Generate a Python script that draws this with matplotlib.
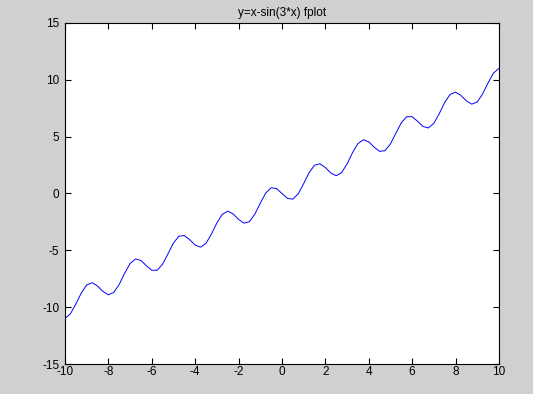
import matplotlib
matplotlib.use('Agg')
import matplotlib.pyplot as plt

# y = x - sin(3x) at steps of 0.25 for x >= 0
x_pos = [0, 0.25, 0.5, 0.75, 1.0, 1.25, 1.5, 1.75, 2.0, 2.25, 2.5, 2.75, 3.0,
         3.25, 3.5, 3.75, 4.0, 4.25, 4.5, 4.75, 5.0, 5.25, 5.5, 5.75, 6.0,
         6.25, 6.5, 6.75, 7.0, 7.25, 7.5, 7.75, 8.0, 8.25, 8.5, 8.75, 9.0,
         9.25, 9.5, 9.75, 10.0]
y_pos = [0, -0.43, -0.50, -0.03, 0.86, 1.82, 2.48, 2.61, 2.28, 1.80, 1.56,
         1.83, 2.59, 3.57, 4.38, 4.72, 4.54, 4.07, 3.70, 3.76, 4.35, 5.29,
         6.21, 6.75, 6.75, 6.35, 5.89, 5.76, 6.16, 7.01, 7.99, 8.70, 8.91,
         8.62, 8.14, 7.85, 8.04, 8.75, 9.72, 10.58, 10.99]
# curve is odd-symmetric about the origin
xs = [-v for v in x_pos[:0:-1]] + x_pos
ys = [-v for v in y_pos[:0:-1]] + y_pos

xticks = [-10, -8, -6, -4, -2, 0, 2, 4, 6, 8, 10]
yticks = [-15, -10, -5, 0, 5, 10, 15]

plt.rcParams['font.family'] = ['Liberation Sans', 'DejaVu Sans']
plt.rcParams['font.size'] = 8
plt.rcParams['axes.unicode_minus'] = False

fig = plt.figure(figsize=(5.33, 3.94), dpi=100, facecolor='#d0d0d0')
ax = fig.add_axes([0.122, 0.076, 0.814, 0.866])
ax.plot(xs, ys, color='blue', linewidth=0.7)
ax.set_xlim(-10, 10)
ax.set_ylim(-15, 15)
ax.set_xticks(xticks)
ax.set_yticks(yticks)
ax.tick_params(direction='in', length=4, top=True, right=True, width=0.8,
               labelsize=8.5)
ax.tick_params(axis='x', pad=1.5)
ax.tick_params(axis='y', pad=4)
for s in ax.spines.values():
    s.set_linewidth(0.8)
ax.set_title('y=x-sin(3*x) fplot', fontsize=8.5, pad=5)

plt.savefig('out.png', dpi=100, facecolor=fig.get_facecolor())
